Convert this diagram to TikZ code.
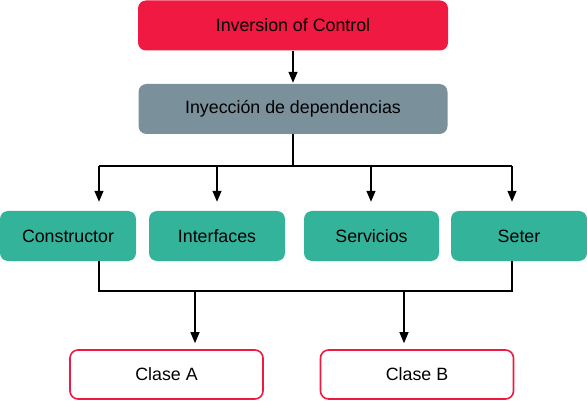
\documentclass[tikz,border=0pt]{standalone}
\usepackage{fontspec}
\setmainfont{Liberation Sans}
\usetikzlibrary{arrows.meta}
\definecolor{iocred}{RGB}{240,25,65}
\definecolor{digray}{RGB}{122,145,156}
\definecolor{tgreen}{RGB}{52,179,155}
\tikzset{
  box/.style={rounded corners=8pt, inner sep=0pt, minimum height=50pt, font=\fontsize{17.8}{20}\selectfont, text=black},
  redbox/.style={box, fill=iocred, minimum width=310pt},
  graybox/.style={box, fill=digray, minimum width=309pt},
  greenbox/.style={box, fill=tgreen, minimum width=136pt},
  classbox/.style={box, draw=iocred, line width=1.6pt, fill=white, minimum width=193pt, minimum height=49pt},
  conn/.style={line width=1.3pt, black},
  arr/.style={conn, -{Triangle[length=11pt,width=9pt]}},
}
\begin{document}
\begin{tikzpicture}[x=1pt,y=-1pt]
\useasboundingbox (0,0) rectangle (587,401);
\node[redbox] (ioc) at (293,25.5) {Inversion of Control};
\node[graybox] (di) at (293,109) {Inyección de dependencias};
\node[greenbox] (cons) at (68,236) {Constructor};
\node[greenbox] (intf) at (217,236) {Interfaces};
\node[greenbox, minimum width=135pt] (serv) at (371.5,236) {Servicios};
\node[greenbox] (seter) at (519,236) {Seter};
\node[classbox] (ca) at (166.5,374.5) {Clase A};
\node[classbox] (cb) at (417,374.5) {Clase B};
% top arrow
\draw[arr, shorten >=1pt] (ioc.south) -- (di.north);
% upper bus
\coordinate (jd) at (293,166);
\coordinate (bl) at (99,166);
\coordinate (bi) at (217,166);
\coordinate (bs) at (371,166);
\coordinate (br) at (512,166);
\draw[conn] (di.south) -- (jd);
\draw[conn] (bl) -- (br);
\draw[arr, shorten >=9pt] (bl) -- (bl |- cons.north);
\draw[arr, shorten >=9pt] (bi) -- (bi |- intf.north);
\draw[arr, shorten >=9pt] (bs) -- (bs |- serv.north);
\draw[arr, shorten >=9pt] (br) -- (br |- seter.north);
% lower bus
\coordinate (cl) at (99,291);
\coordinate (cr) at (512,291);
\coordinate (ja) at (195,291);
\coordinate (jb) at (404,291);
\draw[conn] (cons.south -| cl) -- (cl) -- (cr) -- (seter.south -| cr);
\draw[arr, shorten >=6pt] (ja) -- (ja |- ca.north);
\draw[arr, shorten >=6pt] (jb) -- (jb |- cb.north);
\end{tikzpicture}
\end{document}
